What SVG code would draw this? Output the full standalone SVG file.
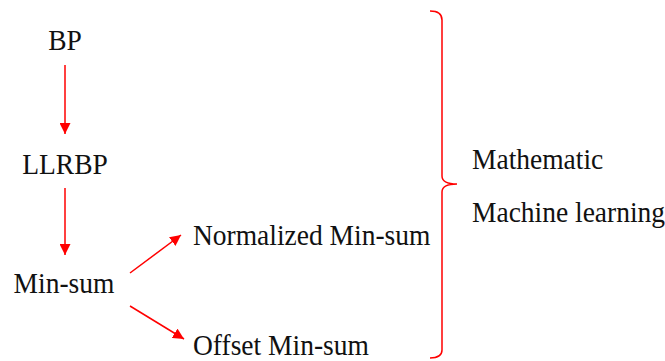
<svg xmlns="http://www.w3.org/2000/svg" width="665" height="361" viewBox="0 0 665 361">
<style>
.t{font-family:"Liberation Serif","Times New Roman",serif;font-size:27.5px;fill:#111}
.c{stroke:#f00;stroke-width:1.5;fill:none}
</style>
<defs>
<marker id="ah" viewBox="0 0 10 10" refX="10" refY="5" markerWidth="11" markerHeight="11" markerUnits="userSpaceOnUse" orient="auto">
<path d="M0,0 L10,5 L0,10 Z" fill="#f00"/>
</marker>
</defs>
<rect width="665" height="361" fill="#fff"/>
<g id="connectors">
<line class="c" x1="65" y1="65" x2="65" y2="134" marker-end="url(#ah)"/>
<line class="c" x1="65" y1="188" x2="65" y2="255" marker-end="url(#ah)"/>
<line class="c" x1="130" y1="273" x2="181" y2="235" marker-end="url(#ah)"/>
<line class="c" x1="130" y1="306" x2="184" y2="339" marker-end="url(#ah)"/>
<path class="c" d="M430,11 Q442,11 442,20 L442,176 Q442,184 457,184 Q442,184 442,192 L442,350 Q442,358 430,358"/>
</g>
<g id="bp"><text class="t" x="65" y="50" text-anchor="middle" transform="translate(0,50) scale(1,1.08) translate(0,-50)">BP</text></g>
<g id="llrbp"><text class="t" x="65" y="174" text-anchor="middle" transform="translate(0,174) scale(1,1.08) translate(0,-174)">LLRBP</text></g>
<g id="minsum"><text class="t" x="64" y="293" text-anchor="middle" transform="translate(0,293) scale(1,1.08) translate(0,-293)">Min-sum</text></g>
<g id="normalized"><text class="t" x="193" y="245" transform="translate(0,245) scale(1,1.08) translate(0,-245)">Normalized Min-sum</text></g>
<g id="offset"><text class="t" x="193" y="355" transform="translate(0,355) scale(1,1.08) translate(0,-355)">Offset Min-sum</text></g>
<g id="mathematic"><text class="t" x="472" y="169" transform="translate(0,169) scale(1,1.08) translate(0,-169)">Mathematic</text></g>
<g id="ml"><text class="t" x="472" y="222" transform="translate(0,222) scale(1,1.08) translate(0,-222)">Machine learning</text></g>
</svg>
